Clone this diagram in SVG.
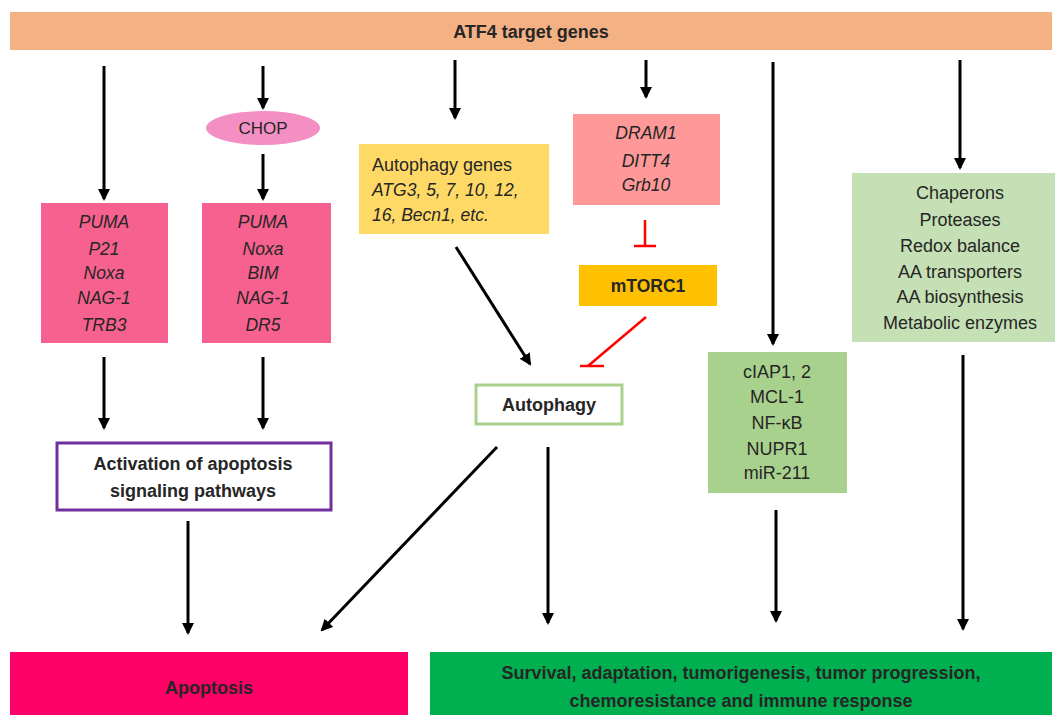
<svg xmlns="http://www.w3.org/2000/svg" width="1057" height="715" viewBox="0 0 1057 715">
<defs>
<marker id="ah" viewBox="0 0 12 12" refX="10" refY="6" markerWidth="12" markerHeight="12" markerUnits="userSpaceOnUse" orient="auto">
<path d="M0,0 L12,6 L0,12 Z" fill="#000"/>
</marker>
</defs>
<style>
text{font-family:"Liberation Sans",Arial,sans-serif;fill:#262626;font-size:18px;}
.c{text-anchor:middle;}
.b{font-weight:bold;}
.i{font-style:italic;font-size:17.5px;}
.ar{stroke:#000;stroke-width:3;fill:none;marker-end:url(#ah);}
.inh{stroke:#FF0000;stroke-width:2.5;fill:none;}
</style>
<rect width="1057" height="715" fill="#fff"/>
<g id="atf4">
<rect x="10" y="12" width="1042" height="38" fill="#F4B183"/>
<text class="c b" x="531" y="38">ATF4 target genes</text>
</g>
<g id="chop">
<ellipse cx="263" cy="128" rx="57" ry="17" fill="#F48FC3"/>
<text class="c" x="263" y="134" style="font-size:17px">CHOP</text>
</g>
<g id="genes1">
<rect x="41" y="203" width="127" height="140" fill="#F7618F"/>
<text class="c i" x="104" y="228">PUMA</text>
<text class="c i" x="104" y="255">P21</text>
<text class="c i" x="104" y="279">Noxa</text>
<text class="c i" x="104" y="304">NAG-1</text>
<text class="c i" x="104" y="331">TRB3</text>
</g>
<g id="genes2">
<rect x="202" y="203" width="129" height="140" fill="#F7618F"/>
<text class="c i" x="263" y="228">PUMA</text>
<text class="c i" x="263" y="255">Noxa</text>
<text class="c i" x="263" y="279">BIM</text>
<text class="c i" x="263" y="304">NAG-1</text>
<text class="c i" x="263" y="331">DR5</text>
</g>
<g id="activation">
<rect x="57" y="443" width="274" height="67" fill="#fff" stroke="#7030A0" stroke-width="3"/>
<text class="c b" x="193" y="470">Activation of apoptosis</text>
<text class="c b" x="193" y="497">signaling pathways</text>
</g>
<g id="apoptosis">
<rect x="10" y="652" width="398" height="63" fill="#FF0066"/>
<text class="c b" x="209" y="694">Apoptosis</text>
</g>
<g id="autogenes">
<rect x="359" y="144" width="190" height="90" fill="#FFD966"/>
<text x="372" y="171">Autophagy genes</text>
<text class="i" x="372" y="196">ATG3, 5, 7, 10, 12,</text>
<text class="i" x="372" y="221">16, Becn1, etc.</text>
</g>
<g id="dram">
<rect x="573" y="114" width="147" height="91" fill="#FF9999"/>
<text class="c i" x="646" y="139">DRAM1</text>
<text class="c i" x="646" y="167">DITT4</text>
<text class="c i" x="646" y="191">Grb10</text>
</g>
<g id="mtorc1">
<rect x="579" y="265" width="138" height="41" fill="#FFC000"/>
<text class="c b" x="648" y="292" style="font-size:17.5px">mTORC1</text>
</g>
<g id="autophagy">
<rect x="476" y="385" width="146" height="39" fill="#fff" stroke="#A9D18E" stroke-width="3"/>
<text class="c b" x="549" y="411">Autophagy</text>
</g>
<g id="ciap">
<rect x="708" y="352" width="139" height="141" fill="#A9D18E"/>
<text class="c" x="777" y="378">cIAP1, 2</text>
<text class="c" x="777" y="403">MCL-1</text>
<text class="c" x="777" y="429">NF-κB</text>
<text class="c" x="777" y="455">NUPR1</text>
<text class="c" x="777" y="479">miR-211</text>
</g>
<g id="chaperons">
<rect x="852" y="173" width="203" height="169" fill="#C5E0B4"/>
<text class="c" x="960" y="199">Chaperons</text>
<text class="c" x="960" y="226">Proteases</text>
<text class="c" x="960" y="252">Redox balance</text>
<text class="c" x="960" y="278">AA transporters</text>
<text class="c" x="960" y="303">AA biosynthesis</text>
<text class="c" x="960" y="329">Metabolic enzymes</text>
</g>
<g id="survival">
<rect x="430" y="652" width="622" height="63" fill="#00B050"/>
<text class="c b" x="741" y="679">Survival,  adaptation, tumorigenesis, tumor progression,</text>
<text class="c b" x="741" y="707">chemoresistance and immune response</text>
</g>
<g id="connectors">
<line class="ar" x1="104" y1="66" x2="104" y2="199"/>
<line class="ar" x1="104" y1="357" x2="104" y2="428"/>
<line class="ar" x1="263" y1="66" x2="263" y2="108"/>
<line class="ar" x1="263" y1="154" x2="263" y2="199"/>
<line class="ar" x1="263" y1="357" x2="263" y2="428"/>
<line class="ar" x1="188" y1="521" x2="188" y2="633"/>
<line class="ar" x1="455" y1="60" x2="455" y2="118"/>
<line class="ar" x1="456" y1="247" x2="530" y2="364"/>
<line class="ar" x1="646" y1="60" x2="646" y2="97"/>
<line class="ar" x1="497" y1="447" x2="322" y2="630"/>
<line class="ar" x1="548" y1="447" x2="548" y2="623"/>
<line class="ar" x1="773" y1="62" x2="773" y2="344"/>
<line class="ar" x1="776" y1="510" x2="776" y2="621"/>
<line class="ar" x1="960" y1="60" x2="960" y2="168"/>
<line class="ar" x1="963" y1="355" x2="963" y2="629"/>
<line class="inh" x1="645" y1="220" x2="645" y2="246"/>
<line class="inh" x1="634" y1="246" x2="656" y2="246"/>
<line class="inh" x1="646" y1="317" x2="588" y2="366"/>
<line class="inh" x1="580" y1="366" x2="604" y2="366"/>
</g>
</svg>
